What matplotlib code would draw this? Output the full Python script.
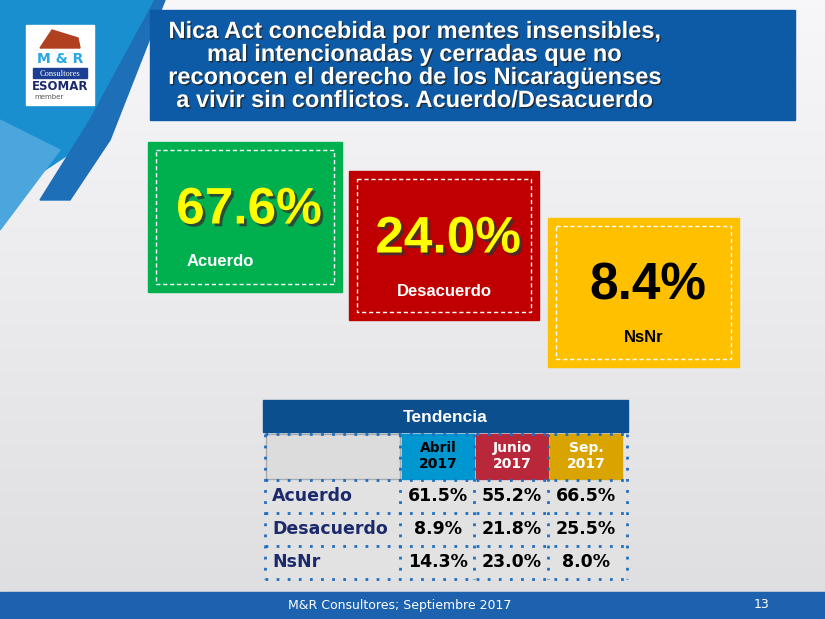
import matplotlib
matplotlib.use("Agg")
import matplotlib.pyplot as plt
import matplotlib.patheffects as pe
from matplotlib.patches import Rectangle, Polygon
import numpy as np

categories = ["Acuerdo", "Desacuerdo", "NsNr"]
values = [67.6, 24.0, 8.4]
periods = ["Abril\n2017", "Junio\n2017", "Sep.\n2017"]
table_vals = [[61.5, 55.2, 66.5], [8.9, 21.8, 25.5], [14.3, 23.0, 8.0]]
title = ("Nica Act concebida por mentes insensibles,\nmal intencionadas y cerradas que no\n"
         "reconocen el derecho de los Nicaragüenses\na vivir sin conflictos. Acuerdo/Desacuerdo")

AR = "Liberation Sans"
fig = plt.figure(figsize=(8.25, 6.19), dpi=100)
ax = fig.add_axes([0, 0, 1, 1])
ax.set_xlim(0, 825); ax.set_ylim(619, 0); ax.axis("off")

grad = np.linspace(0, 1, 256)[:, None]
ax.imshow(np.dstack([0.97 - 0.10*grad, 0.97 - 0.10*grad, 0.98 - 0.10*grad]),
          extent=[0, 825, 619, 0], aspect="auto", zorder=0)
ax.add_patch(Polygon([[0, 0], [160, 0], [90, 140], [0, 200]], color="#1a8fd0", zorder=1))
ax.add_patch(Polygon([[155, 0], [165, 0], [110, 140], [70, 200], [40, 200], [90, 120]],
                     color="#1d6fb8", zorder=1))
ax.add_patch(Polygon([[0, 120], [60, 150], [0, 230]], color="#4aa6dc", zorder=1))
ax.add_patch(Rectangle((150, 10), 645, 110, color="#0d5aa7", zorder=2))
ax.text(415, 66, title, color="white", fontsize=17, fontweight="bold", ha="center", va="center", family=AR,
        linespacing=1.0, zorder=3,
        path_effects=[pe.withSimplePatchShadow(offset=(1, -1), shadow_rgbFace="#222222", alpha=0.8)])
ax.add_patch(Rectangle((26, 25), 68, 80, color="white", zorder=3))
ax.text(60, 63, "M & R", color="#29a8e0", fontsize=10, fontweight="bold", ha="center", zorder=4)
ax.add_patch(Rectangle((33, 68), 54, 10, color="#1c3f94", zorder=4))
ax.text(60, 73.5, "Consultores", color="white", fontsize=6, ha="center", va="center", family="Liberation Serif", zorder=5)
ax.text(60, 86, "ESOMAR", color="#1c2a6b", fontsize=8.5, fontweight="bold", ha="center", va="center", zorder=4)
ax.text(34, 97, "member", color="#555555", fontsize=5, ha="left", va="center", zorder=4)
ax.add_patch(Polygon([[40, 48], [52, 30], [78, 38], [80, 48]], color="#b04020", zorder=4))

boxes = [(148, 142, 194, 150, "#00b04f", "#ffff00", "white"),
         (349, 171, 190, 149, "#c00000", "#ffff00", "white"),
         (548, 218, 191, 149, "#ffc000", "black", "black")]
for (x, y, w, h, fc, vc, lc), cat, v in zip(boxes, categories, values):
    ax.add_patch(Rectangle((x, y), w, h, color=fc, zorder=2))
    ax.add_patch(Rectangle((x + 8, y + 8), w - 16, h - 16, fill=False, ec="white", ls=(0, (3, 2)), lw=1, zorder=3))
    ax.text(x + w/2 + 4, y + 68, f"{v:.1f}%", color=vc, fontsize=37, fontweight="bold", ha="center", va="center",
            family=AR, zorder=4,
            path_effects=[pe.withSimplePatchShadow(offset=(2, -2), shadow_rgbFace="#333333", alpha=0.8)]
            if vc != "black" else None)
    ax.text(x + w/2 - (25 if cat == "Acuerdo" else 0), y + 120, cat, color=lc, fontsize=12, fontweight="bold",
            ha="center", va="center", family=AR, zorder=4)

ax.add_patch(Rectangle((263, 400), 365, 32, color="#0b4f8f", zorder=2))
ax.text(445, 417, "Tendencia", color="white", fontsize=12.5, fontweight="bold", ha="center", va="center", family=AR, zorder=3)
ax.add_patch(Rectangle((266, 434), 134, 45, color="#dcdcdc", ec="#aaaaaa", zorder=2))
pcols = ["#0096d0", "#b8283a", "#d9a300"]
ptext = ["black", "white", "white"]
cx = [402, 476, 550]
for x, c, t, p in zip(cx, pcols, ptext, periods):
    ax.add_patch(Rectangle((x, 434), 72, 45, color=c, zorder=2))
    ax.text(x + 36, 456, p, color=t, fontsize=10, fontweight="bold", ha="center", va="center", linespacing=1.2, zorder=3)
rows_y = [480, 513, 546]
for ry, cat, vals in zip(rows_y, categories, table_vals):
    ax.add_patch(Rectangle((266, ry + 1), 359, 31, color="#e2e2e2", zorder=2))
    ax.text(272, ry + 16, cat, color="#1c2a6b", fontsize=12.5, fontweight="bold", ha="left", va="center", zorder=3)
    for x, v in zip(cx, vals):
        ax.text(x + 36, ry + 16, f"{v:.1f}%", color="black", fontsize=12.5, fontweight="bold",
                ha="center", va="center", zorder=3)
dot = dict(color="#1f6fc0", ls=(0, (1, 3)), lw=2, zorder=4)
for y in [434, 480, 513, 546, 579]:
    ax.plot([265, 627], [y, y], **dot)
for x in [265, 400, 474, 548, 627]:
    ax.plot([x, x], [434, 579], **dot)

ax.add_patch(Rectangle((0, 592), 825, 27, color="#1d62ae", zorder=2))
ax.text(400, 606, "M&R Consultores; Septiembre 2017", color="white", fontsize=9, ha="center", va="center", zorder=3)
ax.text(762, 604, "13", color="white", fontsize=9, ha="center", va="center", zorder=3)

fig.savefig("out.png", dpi=100)
